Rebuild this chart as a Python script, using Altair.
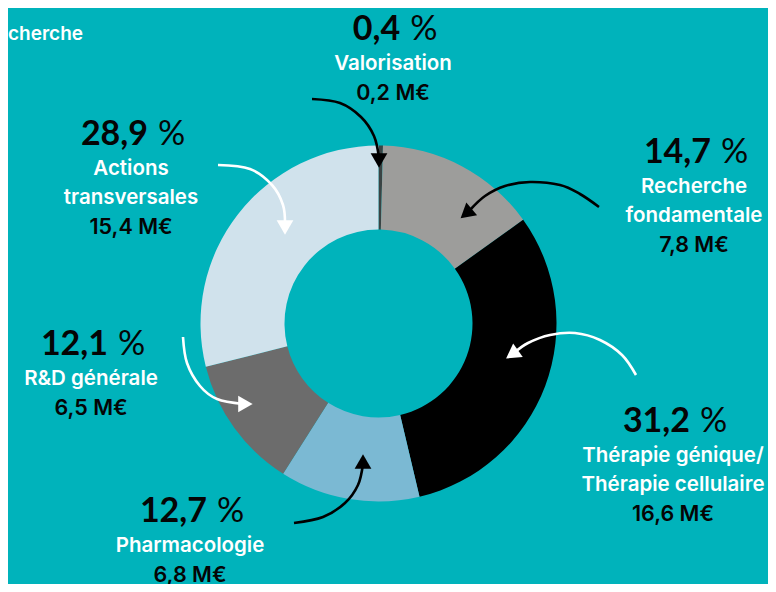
import altair as alt
import pandas as pd

# ---------------- data ----------------
categories = ["Valorisation", "Recherche fondamentale", "Thérapie génique/Thérapie cellulaire",
              "Pharmacologie", "R&D générale", "Actions transversales"]
shares = [0.4, 14.7, 31.2, 12.7, 12.1, 28.9]
share_labels = ["0,4", "14,7", "31,2", "12,7", "12,1", "28,9"]
amount_labels = ["0,2 M€", "7,8 M€", "16,6 M€", "6,8 M€", "6,5 M€", "15,4 M€"]
label_lines = [["Valorisation"], ["Recherche", "fondamentale"],
               ["Thérapie génique/", "Thérapie cellulaire"], ["Pharmacologie"],
               ["R&D générale"], ["Actions", "transversales"]]
slice_colors = ["#3a4444", "#9d9d9b", "#000000", "#7bb9d3", "#6c6c6c", "#d0e2ec"]

# ---------------- annotation layout (page pixel coordinates) ----------------
label_x = [393, 694, 673, 190, 91, 131]
label_y = [40, 163, 432, 522, 355, 145]

arrow_paths = [
    [(312, 99), (340, 103), (361, 117), (374, 136), (379, 158)],
    [(599, 207), (580, 194), (560, 185), (530, 182), (505, 186), (485, 196), (470, 210)],
    [(636, 375), (622, 355), (600, 340), (575, 333), (550, 335), (528, 343), (514, 353)],
    [(294, 523), (323, 517), (345, 503), (358, 485), (363, 464)],
    [(183, 337), (187, 363), (200, 386), (217, 399), (243, 404)],
    [(218, 165), (250, 169), (272, 185), (283, 205), (285, 225)],
]
arrow_colors = ["#000000", "#000000", "#ffffff", "#000000", "#ffffff", "#ffffff"]
head_x = [379, 468, 514, 363, 243, 285]
head_y = [158, 212, 353, 464, 404, 225]
head_angle = [180, 230, 235, 0, 90, 180]

BG = "#00b3bb"
W, H = 760, 576
NUM_FONT = "Lato"
TXT_FONT = "Inter"
PCT_SIZE = 34
LBL_SIZE = 20.5

xs = alt.Scale(domain=[8, 8 + W], range=[0, W], nice=False, zero=False)
ys = alt.Scale(domain=[8, 8 + H], range=[0, H], nice=False, zero=False)

# ---------------- tables ----------------
slices = pd.DataFrame({"category": categories, "share": shares,
                       "order": list(range(len(categories))), "color": slice_colors})

rows = []
for a, (pts, col) in enumerate(zip(arrow_paths, arrow_colors)):
    for i, (px, py) in enumerate(pts):
        rows.append({"arrow": a, "i": i, "x": px, "y": py, "color": col})
arrows = pd.DataFrame(rows)
heads = pd.DataFrame({"x": head_x, "y": head_y, "angle": head_angle, "color": arrow_colors})


def num_width(s):
    w = 0
    for ch in s:
        w += 0.26 * PCT_SIZE if ch == "," else 0.58 * PCT_SIZE
    return w


pct_rows, sign_rows, lbl_rows, amt_rows = [], [], [], []
for k in range(len(categories)):
    cx, by = label_x[k], label_y[k]
    nw = num_width(share_labels[k])
    end = cx + (nw - 34) / 2
    pct_rows.append({"x": end, "y": by, "t": share_labels[k]})
    sign_rows.append({"x": end + 10, "y": by, "t": "%"})
    for j, line in enumerate(label_lines[k]):
        lbl_rows.append({"x": cx, "y": by + 30 + 29 * j, "t": line})
    amt_rows.append({"x": cx, "y": by + 31 + 29 * len(label_lines[k]), "t": amount_labels[k]})

pct_df = pd.DataFrame(pct_rows)
sign_df = pd.DataFrame(sign_rows)
lbl_df = pd.DataFrame(lbl_rows)
amt_df = pd.DataFrame(amt_rows)
corner_df = pd.DataFrame({"x": [83], "y": [40], "t": ["Recherche"]})

X = alt.X("x:Q", scale=xs, axis=None)
Y = alt.Y("y:Q", scale=ys, axis=None)

donut = alt.Chart(slices).mark_arc(innerRadius=94, outerRadius=178, x=370.5, y=315.5).encode(
    theta=alt.Theta("share:Q", stack=True),
    order=alt.Order("order:Q"),
    color=alt.Color("color:N", scale=None),
)

lines = alt.Chart(arrows).mark_line(strokeWidth=2.6, interpolate="cardinal").encode(
    x=X, y=Y, detail="arrow:N", order="i:Q", color=alt.Color("color:N", scale=None)
)

tips = alt.Chart(heads).mark_point(shape="triangle", filled=True, size=280, opacity=1).encode(
    x=X, y=Y, angle=alt.Angle("angle:Q", scale=None), color=alt.Color("color:N", scale=None)
)

pct = alt.Chart(pct_df).mark_text(font=NUM_FONT, fontSize=PCT_SIZE, fontWeight="bold", color="#050505",
                                  align="right", baseline="alphabetic").encode(x=X, y=Y, text="t:N")
sign = alt.Chart(sign_df).mark_text(font=NUM_FONT, fontSize=PCT_SIZE, fontWeight="normal", color="#050505",
                                    align="left", baseline="alphabetic").encode(x=X, y=Y, text="t:N")
lbl = alt.Chart(lbl_df).mark_text(font=TXT_FONT, fontSize=LBL_SIZE, fontWeight=600, color="#ffffff",
                                  align="center", baseline="alphabetic").encode(x=X, y=Y, text="t:N")
amt = alt.Chart(amt_df).mark_text(font=TXT_FONT, fontSize=LBL_SIZE + 1, fontWeight=600, color="#050505",
                                  align="center", baseline="alphabetic").encode(x=X, y=Y, text="t:N")
corner = alt.Chart(corner_df).mark_text(font=TXT_FONT, fontSize=19, fontWeight=600, color="#ffffff",
                                        align="right", baseline="alphabetic").encode(x=X, y=Y, text="t:N")

chart = alt.layer(donut, lines, tips, pct, sign, lbl, amt, corner).properties(
    width=W, height=H, autosize="none", padding=0, background=BG
).configure_view(stroke=None)

chart.save("out.html", embed_options={"renderer": "svg", "actions": False})
